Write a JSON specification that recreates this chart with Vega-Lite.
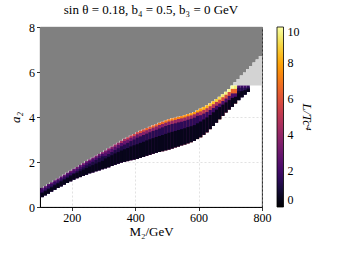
{
  "$schema": "https://vega.github.io/schema/vega-lite/v6.json",
  "autosize": "none",
  "width": 222,
  "height": 180,
  "padding": {"left": 40, "top": 27, "right": 76, "bottom": 47},
  "background": "white",
  "title": {"text": "sin θ = 0.18,  b₄ = 0.5,  b₃ = 0  GeV", "font": "Liberation Serif", "fontSize": 13, "fontWeight": "normal", "color": "black", "offset": 4},
  "config": {
    "view": {"stroke": "black", "strokeWidth": 0.9, "fill": "white"},
    "rect": {"binSpacing": 0},
    "axis": {"labelFont": "Liberation Serif", "labelFontSize": 12, "labelColor": "black", "titleFont": "Liberation Serif", "titleFontSize": 13, "titleFontWeight": "normal", "titleColor": "black", "tickColor": "black", "tickSize": 3.5, "tickWidth": 0.8, "domainColor": "black", "domainWidth": 0.9, "gridColor": "#c0c0c0", "gridOpacity": 0.65, "gridDash": [2, 2], "gridWidth": 0.7, "zindex": 1, "labelPadding": 2}
  },
  "datasets": {
    "g": [
      {"m":100,"g":0.85},{"m":110,"g":0.93},{"m":120,"g":1.02},{"m":130,"g":1.10},{"m":140,"g":1.19},{"m":150,"g":1.27},{"m":160,"g":1.36},{"m":170,"g":1.44},{"m":180,"g":1.53},{"m":190,"g":1.61},
      {"m":200,"g":1.70},{"m":210,"g":1.78},{"m":220,"g":1.87},{"m":230,"g":1.95},{"m":240,"g":2.04},{"m":250,"g":2.12},{"m":260,"g":2.20},{"m":270,"g":2.28},{"m":280,"g":2.36},{"m":290,"g":2.44},
      {"m":300,"g":2.52},{"m":310,"g":2.61},{"m":320,"g":2.69},{"m":330,"g":2.78},{"m":340,"g":2.86},{"m":350,"g":2.95},{"m":360,"g":3.03},{"m":370,"g":3.10},{"m":380,"g":3.18},{"m":390,"g":3.25},
      {"m":400,"g":3.33},{"m":410,"g":3.39},{"m":420,"g":3.45},{"m":430,"g":3.51},{"m":440,"g":3.57},{"m":450,"g":3.63},{"m":460,"g":3.68},{"m":470,"g":3.74},{"m":480,"g":3.79},{"m":490,"g":3.85},
      {"m":500,"g":3.90},{"m":510,"g":3.94},{"m":520,"g":3.97},{"m":530,"g":4.01},{"m":540,"g":4.04},{"m":550,"g":4.08},{"m":560,"g":4.13},{"m":570,"g":4.17},{"m":580,"g":4.22},{"m":590,"g":4.30},
      {"m":600,"g":4.38},{"m":610,"g":4.45},{"m":620,"g":4.52},{"m":630,"g":4.61},{"m":640,"g":4.70},{"m":650,"g":4.80},{"m":660,"g":4.90},{"m":670,"g":5.01},{"m":680,"g":5.12},{"m":690,"g":5.24},
      {"m":700,"g":5.40},{"m":710,"g":5.55},{"m":720,"g":5.69},{"m":730,"g":5.84},{"m":740,"g":5.98},{"m":750,"g":6.13},{"m":760,"g":6.27},{"m":770,"g":6.42},{"m":780,"g":6.56},{"m":790,"g":6.71},{"m":800,"g":6.85}
    ],
    "band": [
      {"m":100,"lo":0.44,"k":0.62,"d":0.66,"p":0.77,"hi":0.85,"u":1.0,"w":1.7,"v":2.3},
      {"m":110,"lo":0.52,"k":0.70,"d":0.74,"p":0.85,"hi":0.93,"u":1.0,"w":1.7,"v":2.6},
      {"m":120,"lo":0.60,"k":0.79,"d":0.83,"p":0.94,"hi":1.02,"u":1.0,"w":1.7,"v":2.4},
      {"m":130,"lo":0.69,"k":0.87,"d":0.91,"p":1.02,"hi":1.10,"u":1.0,"w":1.7,"v":2.7},
      {"m":140,"lo":0.77,"k":0.96,"d":1.00,"p":1.11,"hi":1.19,"u":1.0,"w":1.7,"v":2.5},
      {"m":150,"lo":0.85,"k":1.04,"d":1.08,"p":1.19,"hi":1.27,"u":1.0,"w":1.7,"v":2.8},
      {"m":160,"lo":0.92,"k":1.13,"d":1.17,"p":1.28,"hi":1.36,"u":1.0,"w":1.7,"v":2.6},
      {"m":170,"lo":1.00,"k":1.21,"d":1.25,"p":1.36,"hi":1.44,"u":1.0,"w":1.7,"v":2.9},
      {"m":180,"lo":1.07,"k":1.29,"d":1.34,"p":1.45,"hi":1.53,"u":1.0,"w":1.7,"v":2.7},
      {"m":190,"lo":1.15,"k":1.37,"d":1.42,"p":1.53,"hi":1.61,"u":1.0,"w":1.7,"v":3.0},
      {"m":200,"lo":1.22,"k":1.46,"d":1.51,"p":1.62,"hi":1.70,"u":1.1,"w":2.0,"v":2.8},
      {"m":210,"lo":1.28,"k":1.52,"d":1.59,"p":1.70,"hi":1.78,"u":1.1,"w":2.0,"v":3.1},
      {"m":220,"lo":1.33,"k":1.59,"d":1.68,"p":1.79,"hi":1.87,"u":1.1,"w":2.0,"v":2.9},
      {"m":230,"lo":1.39,"k":1.66,"d":1.76,"p":1.87,"hi":1.95,"u":1.1,"w":2.0,"v":3.2},
      {"m":240,"lo":1.44,"k":1.73,"d":1.85,"p":1.96,"hi":2.04,"u":1.1,"w":2.0,"v":3.0},
      {"m":250,"lo":1.50,"k":1.80,"d":1.93,"p":2.04,"hi":2.12,"u":1.1,"w":2.0,"v":3.3},
      {"m":260,"lo":1.54,"k":1.86,"d":2.01,"p":2.12,"hi":2.20,"u":1.1,"w":2.0,"v":3.1},
      {"m":270,"lo":1.59,"k":1.93,"d":2.09,"p":2.20,"hi":2.28,"u":1.1,"w":2.0,"v":3.4},
      {"m":280,"lo":1.63,"k":1.99,"d":2.17,"p":2.28,"hi":2.36,"u":1.1,"w":2.0,"v":3.3},
      {"m":290,"lo":1.68,"k":2.05,"d":2.25,"p":2.36,"hi":2.44,"u":1.1,"w":2.0,"v":3.6},
      {"m":300,"lo":1.72,"k":2.16,"d":2.27,"p":2.42,"hi":2.52,"u":1.2,"w":2.4,"v":3.5},
      {"m":310,"lo":1.77,"k":2.23,"d":2.36,"p":2.51,"hi":2.61,"u":1.2,"w":2.4,"v":3.8},
      {"m":320,"lo":1.82,"k":2.30,"d":2.44,"p":2.59,"hi":2.69,"u":1.2,"w":2.4,"v":3.7},
      {"m":330,"lo":1.88,"k":2.38,"d":2.53,"p":2.68,"hi":2.78,"u":1.2,"w":2.4,"v":4.1},
      {"m":340,"lo":1.93,"k":2.44,"d":2.61,"p":2.76,"hi":2.86,"u":1.2,"w":2.4,"v":4.0},
      {"m":350,"lo":1.98,"k":2.51,"d":2.70,"p":2.85,"hi":2.95,"u":1.2,"w":2.4,"v":4.5},
      {"m":360,"lo":2.01,"k":2.57,"d":2.78,"p":2.93,"hi":3.03,"u":1.3,"w":2.9,"v":4.6},
      {"m":370,"lo":2.04,"k":2.62,"d":2.85,"p":3.00,"hi":3.10,"u":1.3,"w":2.9,"v":5.2},
      {"m":380,"lo":2.08,"k":2.69,"d":2.93,"p":3.08,"hi":3.18,"u":1.3,"w":2.9,"v":5.0},
      {"m":390,"lo":2.11,"k":2.74,"d":3.00,"p":3.15,"hi":3.25,"u":1.3,"w":2.9,"v":5.6},
      {"m":400,"lo":2.14,"k":2.79,"d":3.08,"p":3.23,"hi":3.33,"u":1.3,"w":2.9,"v":5.5},
      {"m":410,"lo":2.19,"k":2.85,"d":3.14,"p":3.29,"hi":3.39,"u":1.4,"w":3.6,"v":6.1},
      {"m":420,"lo":2.23,"k":2.90,"d":3.20,"p":3.35,"hi":3.45,"u":1.4,"w":3.6,"v":5.9},
      {"m":430,"lo":2.28,"k":2.96,"d":3.26,"p":3.41,"hi":3.51,"u":1.4,"w":3.6,"v":6.4},
      {"m":440,"lo":2.32,"k":3.01,"d":3.32,"p":3.47,"hi":3.57,"u":1.4,"w":3.6,"v":6.2},
      {"m":450,"lo":2.37,"k":3.06,"d":3.38,"p":3.53,"hi":3.63,"u":1.4,"w":3.6,"v":6.6},
      {"m":460,"lo":2.41,"k":3.11,"d":3.43,"p":3.58,"hi":3.68,"u":1.4,"w":3.6,"v":6.4},
      {"m":470,"lo":2.45,"k":3.16,"d":3.49,"p":3.64,"hi":3.74,"u":1.4,"w":3.6,"v":6.8},
      {"m":480,"lo":2.48,"k":3.20,"d":3.54,"p":3.69,"hi":3.79,"u":1.4,"w":3.6,"v":6.6},
      {"m":490,"lo":2.52,"k":3.25,"d":3.60,"p":3.75,"hi":3.85,"u":1.4,"w":3.6,"v":7.0},
      {"m":500,"lo":2.56,"k":3.30,"d":3.65,"p":3.80,"hi":3.90,"u":1.4,"w":3.6,"v":6.9},
      {"m":510,"lo":2.60,"k":3.34,"d":3.69,"p":3.84,"hi":3.94,"u":1.5,"w":4.0,"v":7.2},
      {"m":520,"lo":2.65,"k":3.38,"d":3.72,"p":3.87,"hi":3.97,"u":1.5,"w":4.0,"v":7.0},
      {"m":530,"lo":2.69,"k":3.42,"d":3.76,"p":3.91,"hi":4.01,"u":1.5,"w":4.0,"v":7.3},
      {"m":540,"lo":2.74,"k":3.46,"d":3.79,"p":3.94,"hi":4.04,"u":1.5,"w":4.0,"v":7.2},
      {"m":550,"lo":2.78,"k":3.50,"d":3.83,"p":3.98,"hi":4.08,"u":1.5,"w":4.0,"v":7.5},
      {"m":560,"lo":2.83,"k":3.55,"d":3.88,"p":4.03,"hi":4.13,"u":1.5,"w":4.0,"v":7.4},
      {"m":570,"lo":2.88,"k":3.59,"d":3.92,"p":4.07,"hi":4.17,"u":1.5,"w":4.0,"v":7.7},
      {"m":580,"lo":2.94,"k":3.64,"d":3.97,"p":4.12,"hi":4.22,"u":1.5,"w":4.0,"v":7.6},
      {"m":590,"lo":3.02,"k":3.72,"d":4.05,"p":4.20,"hi":4.30,"u":1.5,"w":4.0,"v":8.0},
      {"m":600,"lo":3.10,"k":3.80,"d":4.08,"p":4.25,"hi":4.38,"u":1.8,"w":4.8,"v":7.9},
      {"m":610,"lo":3.21,"k":3.89,"d":4.15,"p":4.32,"hi":4.45,"u":1.8,"w":4.8,"v":8.3},
      {"m":620,"lo":3.32,"k":3.98,"d":4.22,"p":4.39,"hi":4.52,"u":1.8,"w":4.8,"v":8.2},
      {"m":630,"lo":3.46,"k":4.09,"d":4.31,"p":4.48,"hi":4.61,"u":1.8,"w":4.8,"v":8.6},
      {"m":640,"lo":3.60,"k":4.21,"d":4.40,"p":4.57,"hi":4.70,"u":1.8,"w":4.8,"v":8.5},
      {"m":650,"lo":3.75,"k":4.33,"d":4.50,"p":4.67,"hi":4.80,"u":1.8,"w":4.8,"v":8.9},
      {"m":660,"lo":3.90,"k":4.44,"d":4.60,"p":4.77,"hi":4.90,"u":2.2,"w":5.8,"v":9.1},
      {"m":670,"lo":4.05,"k":4.55,"d":4.71,"p":4.88,"hi":5.01,"u":2.2,"w":5.8,"v":9.4},
      {"m":680,"lo":4.20,"k":4.65,"d":4.82,"p":4.99,"hi":5.12,"u":2.2,"w":5.8,"v":9.6},
      {"m":690,"lo":4.33,"k":4.75,"d":4.94,"p":5.11,"hi":5.24,"u":2.2,"w":5.8,"v":9.8},
      {"m":700,"lo":4.45,"k":4.85,"d":5.05,"p":5.25,"hi":5.40,"u":2.2,"w":6.5,"v":10.0},
      {"m":710,"lo":4.60,"k":4.90,"d":5.05,"p":5.25,"hi":5.40,"u":2.2,"w":6.5,"v":9.6},
      {"m":720,"lo":4.75,"k":5.05,"d":5.15,"p":5.30,"hi":5.40,"u":0.8,"w":1.3,"v":2.2},
      {"m":730,"lo":4.88,"k":5.14,"d":5.15,"p":5.30,"hi":5.40,"u":0.8,"w":1.3,"v":1.8},
      {"m":740,"lo":5.00,"k":5.18,"d":5.20,"p":5.30,"hi":5.40,"u":0.8,"w":1.3,"v":2.0},
      {"m":750,"lo":5.12,"k":5.25,"d":5.27,"p":5.32,"hi":5.40,"u":0.8,"w":1.3,"v":1.6}
    ]
  },
  "encoding": {
    "x": {"field": "m", "type": "quantitative", "scale": {"domain": [100, 800], "nice": false, "zero": false}, "axis": {"values": [200, 400, 600, 800], "title": "M₂/GeV", "titlePadding": 2, "labelFlush": false}}
  },
  "layer": [
    {
      "data": {"name": "g"},
      "mark": {"type": "area", "interpolate": "step-after", "color": "#808080"},
      "encoding": {
        "y": {"field": "g", "type": "quantitative", "scale": {"domain": [0, 8], "nice": false, "zero": false}, "axis": {"values": [0, 2, 4, 6, 8], "title": "a₂", "titleFontStyle": "italic", "titlePadding": 6}},
        "y2": {"datum": 8}
      }
    },
    {
      "data": {"name": "g"},
      "transform": [{"filter": "datum.m >= 700"}],
      "mark": {"type": "area", "interpolate": "step-after", "color": "#d3d3d3"},
      "encoding": {
        "y": {"field": "g", "type": "quantitative"},
        "y2": {"datum": 5.4}
      }
    },
    {
      "data": {"name": "band"},
      "mark": {"type": "rect", "binSpacing": 0},
      "encoding": {
        "x": {"field": "m", "type": "quantitative", "bin": {"binned": true, "step": 10}},
        "y": {"field": "lo", "type": "quantitative"},
        "y2": {"field": "hi"},
        "color": {"field": "v", "type": "quantitative", "scale": {"scheme": "inferno", "domain": [0, 10], "clamp": true},
          "legend": {"title": "L/Tc⁴", "orient": "right", "offset": 15, "direction": "vertical", "gradientLength": 180, "gradientThickness": 6.5, "gradientStrokeColor": "black", "gradientStrokeWidth": 0.8, "values": [0, 2, 4, 6, 8, 10], "labelFont": "Liberation Serif", "labelFontSize": 12, "labelColor": "black", "labelOffset": 4, "labelBaseline": "middle", "titleFont": "Liberation Serif", "titleFontSize": 13, "titleFontStyle": "italic", "titleFontWeight": "normal", "titleColor": "black", "titleOrient": "right", "titleAngle": 90, "titleAnchor": "middle", "titlePadding": 0}}
      }
    },
    {
      "data": {"name": "band"},
      "mark": {"type": "rect", "binSpacing": 0},
      "encoding": {
        "x": {"field": "m", "type": "quantitative", "bin": {"binned": true, "step": 10}},
        "y": {"field": "lo", "type": "quantitative"},
        "y2": {"field": "p"},
        "color": {"field": "w", "type": "quantitative", "legend": null}
      }
    },
    {
      "data": {"name": "band"},
      "mark": {"type": "rect", "binSpacing": 0},
      "encoding": {
        "x": {"field": "m", "type": "quantitative", "bin": {"binned": true, "step": 10}},
        "y": {"field": "lo", "type": "quantitative"},
        "y2": {"field": "d"},
        "color": {"field": "u", "type": "quantitative", "legend": null}
      }
    },
    {
      "data": {"name": "band"},
      "mark": {"type": "rect", "color": "#07051a", "binSpacing": 0},
      "encoding": {
        "x": {"field": "m", "type": "quantitative", "bin": {"binned": true, "step": 10}},
        "y": {"field": "lo", "type": "quantitative"},
        "y2": {"field": "k"}
      }
    }
  ]
}
